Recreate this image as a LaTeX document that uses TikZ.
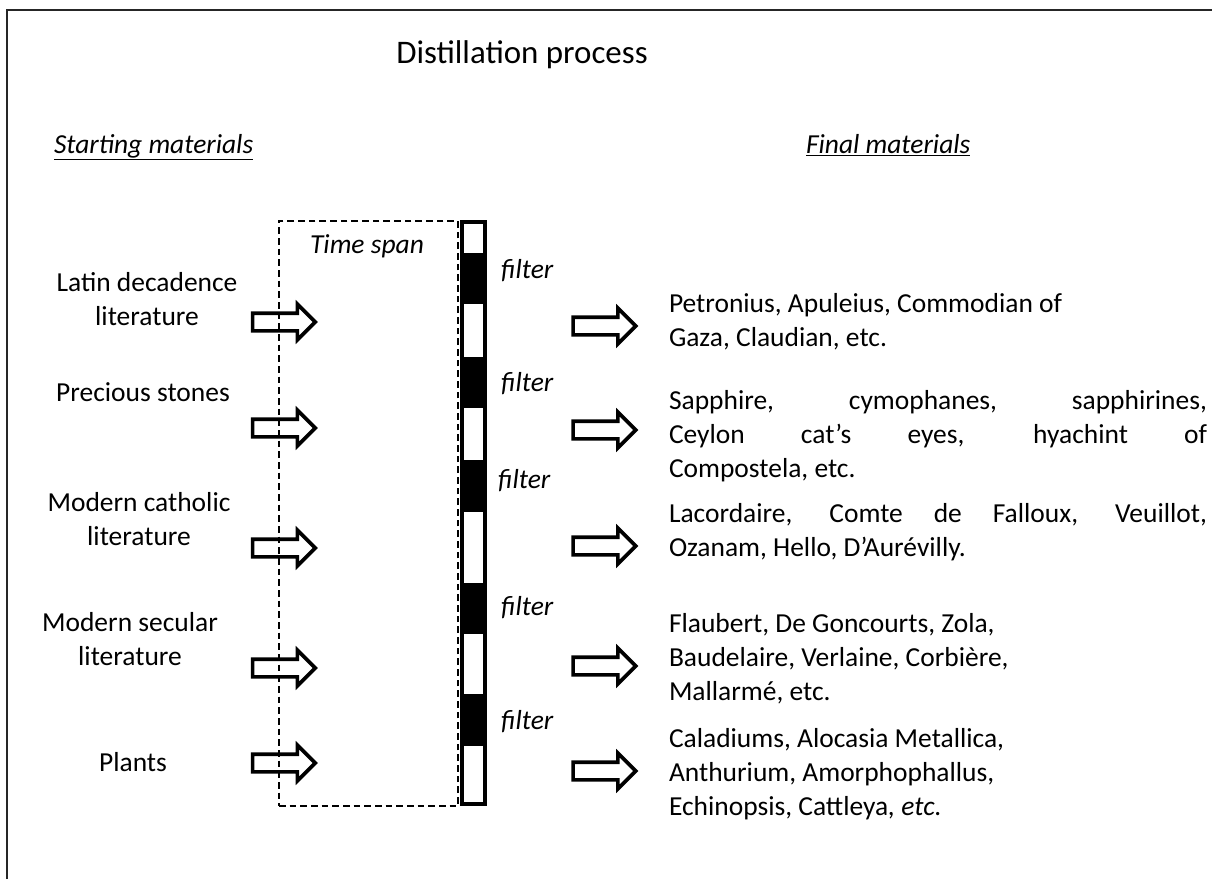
\documentclass[tikz,border=0pt]{standalone}
\usepackage{fontspec}
\setmainfont{Carlito}
\usetikzlibrary{shapes.arrows}
\newcommand\jline[1]{\makebox[403.5pt][s]{#1}}
\begin{document}
\begin{tikzpicture}[x=0.75pt,y=-0.75pt,
  txt/.style={font=\fontsize{20.6}{25.5}\selectfont, inner sep=0pt, outer sep=0pt},
  lbl/.style={txt, align=center, anchor=base},
  blk/.style={txt, align=left, anchor=base west},
  itl/.style={txt, font=\fontsize{20.6}{25.5}\selectfont\itshape, anchor=base west},
  bigarrow/.style={single arrow, draw, line width=2.7pt, minimum height=47pt,
    inner xsep=0pt, inner ysep=5.25pt, single arrow head extend=6.75pt,
    single arrow head indent=0pt, outer sep=0pt},
  frame/.style={line width=1.5pt, draw=black!85},
  timebox/.style={draw, dashed, dash pattern=on 5pt off 3pt, line width=1.4pt,
    minimum width=134.25pt, minimum height=438.75pt, inner sep=0pt},
  filterbar/.style={draw, line width=3pt, minimum width=17.25pt,
    minimum height=436.5pt, inner sep=0pt}
]
\useasboundingbox (0,0) rectangle (1212,879);
% frame lines
\coordinate (fb) at (7,879);
\coordinate (fc) at (7,10);
\coordinate (fr) at (1212,10);
\draw[frame] (fb) -- (fc) -- (fr);

\node[txt, font=\fontsize{24.7}{30}\selectfont, anchor=base] (title) at (522,63) {Distillation process};
\node[itl] (start) at (54,153) {\underline{Starting materials}};
\node[itl] (final) at (806,153) {\underline{Final materials}};

% time span box
\node[timebox] (span) at (368.5,513.5) {};
\node[itl, anchor=base] (spanlbl) at (367,253) {Time span};

% filter bar
\fill (462,253) rectangle (485,304);
\fill (462,357) rectangle (485,408);
\fill (462,460) rectangle (485,512);
\fill (462,583) rectangle (485,634);
\fill (462,694) rectangle (485,746);
\node[filterbar] (bar) at (473.5,513) {};

\node[itl] (f1) at (501,278) {filter};
\node[itl] (f2) at (501,391) {filter};
\node[itl] (f3) at (498,488) {filter};
\node[itl] (f4) at (501,615) {filter};
\node[itl] (f5) at (501,729) {filter};

% left labels (base = last line)
\node[lbl] (s1) at (147,325) {Latin decadence\\literature};
\node[lbl] (s2) at (143,401) {Precious stones};
\node[lbl] (s3) at (139,545) {Modern catholic\\literature};
\node[lbl] (s4) at (130,665) {Modern secular\\literature};
\node[lbl] (s5) at (133,771) {Plants};

% left arrows
\node[bigarrow] (la1) at (279.5,322) {};
\node[bigarrow] (la2) at (279.5,428) {};
\node[bigarrow] (la3) at (279.5,548) {};
\node[bigarrow] (la4) at (279.5,668) {};
\node[bigarrow] (la5) at (279.5,763) {};

% right arrows
\node[bigarrow] (ra1) at (600,326) {};
\node[bigarrow] (ra2) at (600,430) {};
\node[bigarrow] (ra3) at (600,546) {};
\node[bigarrow] (ra4) at (600,666) {};
\node[bigarrow] (ra5) at (600,771) {};

% right texts (base = last line)
\node[blk] (t1) at (669,346) {Petronius, Apuleius, Commodian of\\Gaza, Claudian, etc.};
\node[blk] (t2) at (669,477) {\jline{Sapphire, cymophanes, sapphirines,}\\\jline{Ceylon cat’s eyes, hyachint of}\\Compostela, etc.};
\node[blk] (t3) at (669,556) {\jline{Lacordaire, Comte de Falloux, Veuillot,}\\Ozanam, Hello, D’Aurévilly.};
\node[blk] (t4) at (669,700) {Flaubert, De Goncourts, Zola,\\Baudelaire, Verlaine, Corbière,\\Mallarmé, etc.};
\node[blk] (t5) at (669,815) {Caladiums, Alocasia Metallica,\\Anthurium, Amorphophallus,\\Echinopsis, Cattleya\textit{, etc.}};
\end{tikzpicture}
\end{document}
